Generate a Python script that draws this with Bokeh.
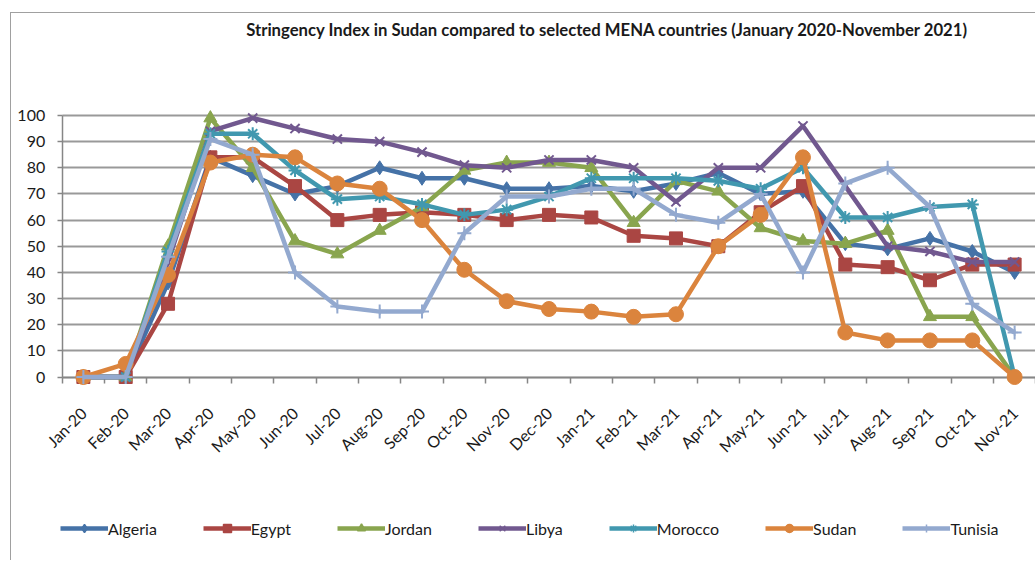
from bokeh.plotting import figure
from bokeh.models import Range1d, FixedTicker, Legend, LegendItem, Label
from bokeh.embed import file_html
from bokeh.resources import INLINE

months = ["Jan-20", "Feb-20", "Mar-20", "Apr-20", "May-20", "Jun-20", "Jul-20", "Aug-20",
          "Sep-20", "Oct-20", "Nov-20", "Dec-20", "Jan-21", "Feb-21", "Mar-21", "Apr-21",
          "May-21", "Jun-21", "Jul-21", "Aug-21", "Sep-21", "Oct-21", "Nov-21"]

algeria = [0, 0, 36, 84, 77, 70, 73, 80, 76, 76, 72, 72, 73, 71, 74, 78, 70, 71, 51, 49, 53, 48, 40]
egypt = [0, 0, 28, 84, 84, 73, 60, 62, 63, 62, 60, 62, 61, 54, 53, 50, 63, 73, 43, 42, 37, 43, 43]
jordan = [0, 0, 50, 99, 80, 52, 47, 56, 65, 79, 82, 82, 80, 59, 75, 71, 57, 52, 51, 56, 23, 23, 0]
libya = [0, 0, 44, 94, 99, 95, 91, 90, 86, 81, 80, 83, 83, 80, 67, 80, 80, 96, 73, 50, 48, 44, 44]
morocco = [0, 0, 48, 93, 93, 79, 68, 69, 66, 62, 64, 69, 76, 76, 76, 75, 72, 80, 61, 61, 65, 66, 0]
sudan = [0, 5, 39, 82, 85, 84, 74, 72, 60, 41, 29, 26, 25, 23, 24, 50, 62, 84, 17, 14, 14, 14, 0]
tunisia = [0, 0, 46, 91, 85, 40, 27, 25, 25, 55, 69, 69, 72, 72, 62, 59, 70, 40, 74, 80, 65, 28, 17]

names = ["Algeria", "Egypt", "Jordan", "Libya", "Morocco", "Sudan", "Tunisia"]
values = [algeria, egypt, jordan, libya, morocco, sudan, tunisia]
colors = ["#4572A7", "#AA4643", "#89A54E", "#71588F", "#4198AF", "#DB843D", "#93A9CF"]
markers = ["diamond", "square", "triangle", "x", "asterisk", "circle", "cross"]
msizes = [14, 13, 13, 13, 13, 15, 14]

y_ticks = list(range(0, 101, 10))
title_text = "Stringency Index in Sudan compared to selected  MENA countries (January 2020-November 2021)"
FONT = "Lato"

x = list(range(len(months)))
n = len(months)

# the frame fills the whole canvas; the plot area is the region [-0.5, n-0.5] x [0, 100]
p = figure(width=1025, height=548, output_backend="svg", toolbar_location=None,
           x_range=Range1d(-1.698, n - 0.483), y_range=Range1d(-70.55, 139.0),
           min_border_left=0, min_border_right=0, min_border_top=0, min_border_bottom=0)
p.margin = (12, 0, 0, 10)
p.outline_line_color = None
p.background_fill_color = "white"
p.border_fill_color = "white"
p.styles = {"border-left": "1px solid #a0a0a0", "border-top": "1px solid #a0a0a0"}

# x axis at y = 0
xa = p.xaxis[0]
xa.fixed_location = 0
xa.bounds = (-0.5, n - 0.5)
xa.ticker = FixedTicker(ticks=x, minor_ticks=[i - 0.5 for i in range(n + 1)])
xa.major_label_overrides = {i: m for i, m in enumerate(months)}
xa.major_label_orientation = 0.785398
xa.major_tick_out = 0
xa.major_tick_in = 0
xa.minor_tick_out = 6
xa.minor_tick_in = 0
xa.minor_tick_line_color = "#868686"
xa.minor_tick_line_width = 1.5
xa.axis_line_color = "#868686"
xa.axis_line_width = 1.5
xa.major_label_text_font = FONT
xa.major_label_text_font_size = "16px"
xa.major_label_text_color = "#1a1a1a"
xa.major_label_standoff = 27

# y axis at left edge of plot area
ya = p.yaxis[0]
ya.fixed_location = -0.5
ya.bounds = (0, 100)
ya.ticker = FixedTicker(ticks=y_ticks)
ya.major_tick_out = 5
ya.major_tick_in = 0
ya.minor_tick_line_color = None
ya.major_tick_line_color = "#868686"
ya.major_tick_line_width = 1.5
ya.axis_line_color = "#868686"
ya.axis_line_width = 1.5
ya.major_label_text_font = FONT
ya.major_label_text_font_size = "16px"
ya.major_label_text_color = "#1a1a1a"
ya.major_label_standoff = 12

p.xgrid.grid_line_color = None
p.ygrid.grid_line_color = "#999999"
p.ygrid.grid_line_width = 1.8
p.ygrid.cross_bounds = (-0.5, n - 0.5)

items = []
for name, vals, col, mk, ms in zip(names, values, colors, markers, msizes):
    lr = p.line(x, vals, line_color=col, line_width=4.5, line_join="round", level="overlay")
    lw = 2 if mk in ("x", "asterisk", "cross") else 1
    small = p.scatter(x, vals, marker=mk, size=7, fill_color=col, line_color=col,
                      line_width=1.5, level="overlay")
    p.scatter(x, vals, marker=mk, size=ms, fill_color=col, line_color=col,
              line_width=lw, level="overlay")
    items.append(LegendItem(label=name, renderers=[lr, small]))

legend = Legend(items=items, orientation="horizontal", location=(49, 23),
                glyph_width=48, glyph_height=20, label_standoff=0, spacing=46,
                padding=6, margin=0, border_line_color=None, background_fill_alpha=0,
                label_text_font=FONT, label_text_font_size="16px", label_text_color="#1a1a1a")
p.add_layout(legend)

p.add_layout(Label(x=598, y=532, x_units="screen", y_units="screen", text=title_text,
                   text_align="center", text_baseline="middle", text_font=FONT,
                   text_font_style="bold", text_font_size="16.7px", text_color="#1a1a1a"))

open("out.html", "w").write(file_html(p, INLINE))
